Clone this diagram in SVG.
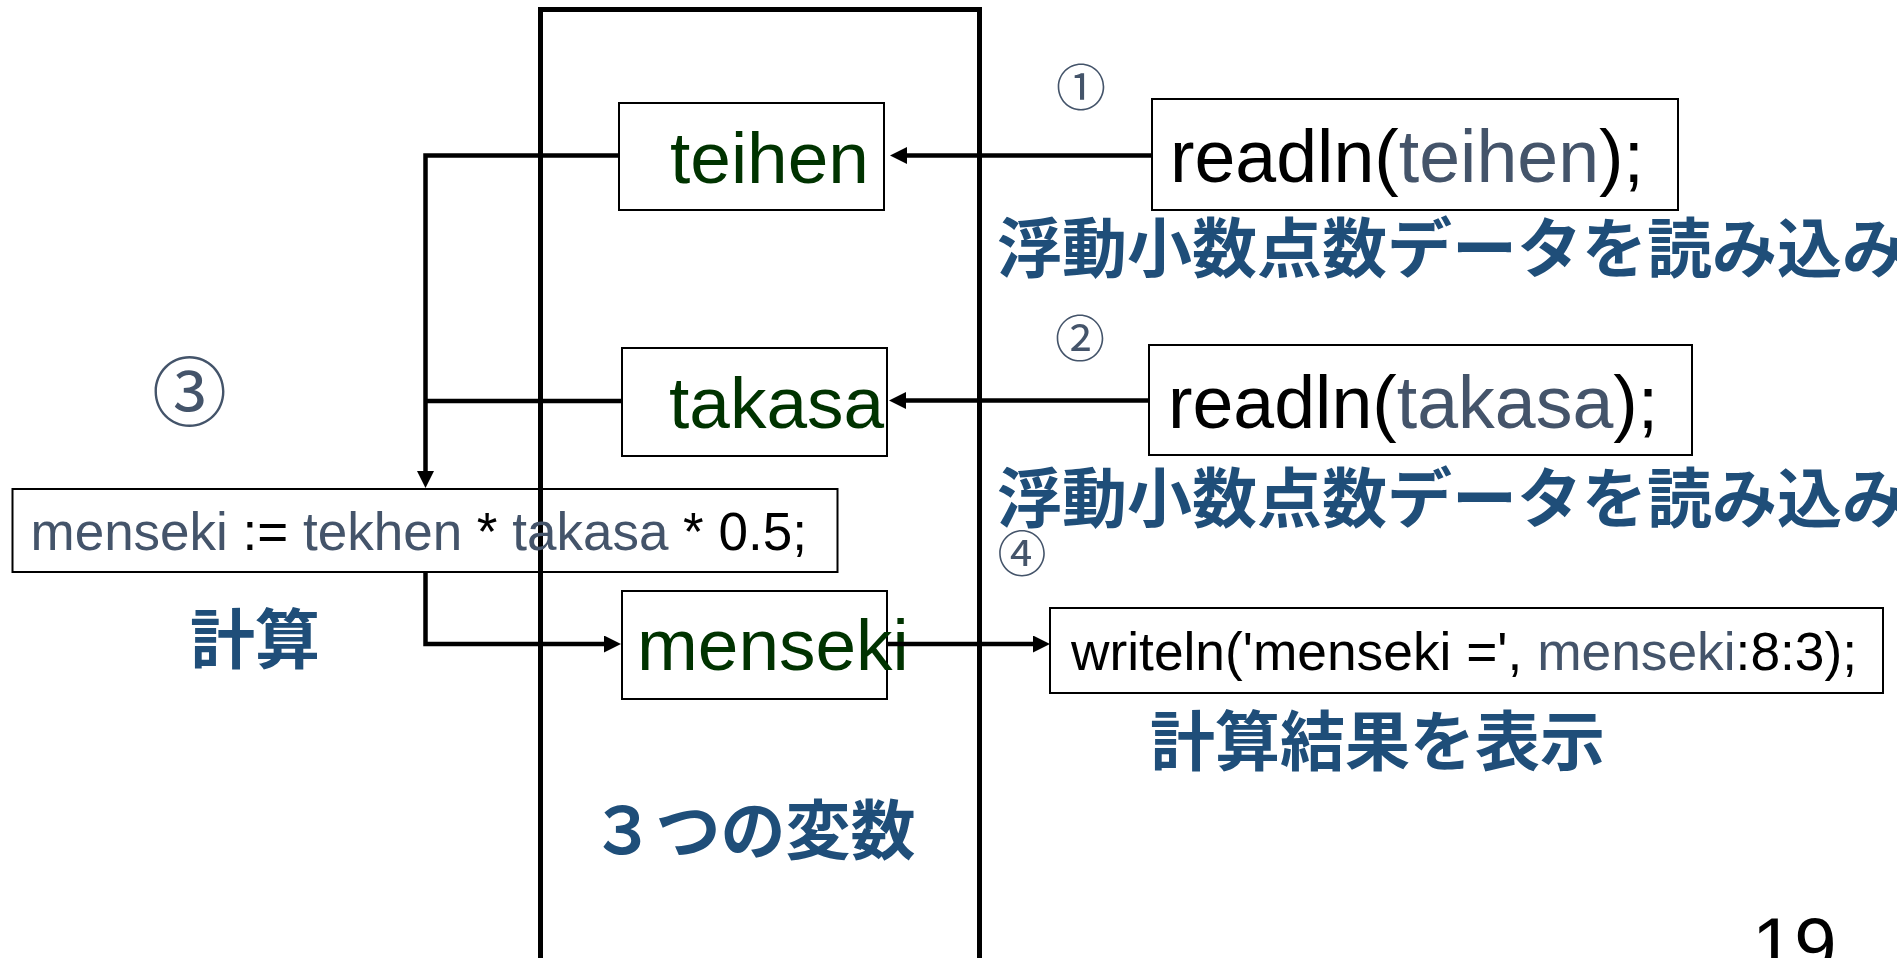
<svg xmlns="http://www.w3.org/2000/svg" width="1897" height="958" viewBox="0 0 1897 958">
<defs>
<style>
.box{fill:none;stroke:#000;stroke-width:2}
.con{fill:none;stroke:#000;stroke-width:4.5}
.lat{font-family:"Liberation Sans",Arial,sans-serif}
.var{font-family:"Liberation Sans",Arial,sans-serif;font-size:73px;fill:#003300}
.gb{fill:#44546A}
.blk{fill:#000}
.jp{font-family:"Noto Sans CJK JP","Noto Sans CJK SC",sans-serif;font-weight:bold;font-size:65px;fill:#1F4E79}
.circ{font-family:"Noto Sans CJK JP","Noto Sans CJK SC",sans-serif;fill:#44546A;text-anchor:middle}
</style>
<marker id="arr" markerUnits="userSpaceOnUse" markerWidth="17" markerHeight="17" refX="9" refY="8.5" orient="auto">
<path d="M0,0 L17,8.5 L0,17 z" fill="#000"/>
</marker>
</defs>
<rect width="1897" height="958" fill="#fff"/>

<g id="vars-frame">
<path d="M540.5,970 V9.5 H979.5 V970" fill="none" stroke="#000" stroke-width="5"/>
<text class="jp" x="753" y="854" text-anchor="middle">３つの変数</text>
</g>

<g id="teihen">
<rect class="box" x="619" y="103" width="265" height="107"/>
<text class="var" x="670" y="183">teihen</text>
</g>
<g id="takasa">
<rect class="box" x="622" y="348" width="265" height="108"/>
<text class="var" x="669" y="428" font-size="74">takasa</text>
</g>
<g id="menseki">
<rect class="box" x="622" y="591" width="265" height="108"/>
<text class="var" x="637" y="670">menseki</text>
</g>

<g id="readln-teihen">
<text class="circ" x="1081" y="106" font-size="50">①</text>
<rect class="box" x="1152" y="99" width="526" height="111"/>
<text class="lat" x="1170" y="182" font-size="73.5"><tspan class="blk">readln(</tspan><tspan class="gb">teihen</tspan><tspan class="blk">);</tspan></text>
<text class="jp" x="997" y="272">浮動小数点数データを読み込み</text>
</g>

<g id="readln-takasa">
<text class="circ" x="1080" y="357" font-size="50">②</text>
<rect class="box" x="1149" y="345" width="543" height="110"/>
<text class="lat" x="1168" y="428" font-size="73.5"><tspan class="blk">readln(</tspan><tspan class="gb">takasa</tspan><tspan class="blk">);</tspan></text>
<text class="jp" x="997" y="522">浮動小数点数データを読み込み</text>
</g>

<g id="calc">
<text class="circ" x="189.5" y="420" font-size="75">③</text>
<rect class="box" x="12.5" y="489" width="825" height="83"/>
<text class="lat" x="30.5" y="550" font-size="53"><tspan class="gb">menseki</tspan><tspan class="blk"> := </tspan><tspan class="gb">tekhen</tspan><tspan class="blk"> * </tspan><tspan class="gb">takasa</tspan><tspan class="blk"> * 0.5;</tspan></text>
<text class="jp" x="190" y="663">計算</text>
</g>

<g id="writeln">
<text class="circ" x="1022" y="572" font-size="49">④</text>
<rect class="box" x="1050" y="608" width="833" height="85"/>
<text class="lat" x="1071" y="670" font-size="53.3"><tspan class="blk">writeln('menseki =', </tspan><tspan class="gb">menseki</tspan><tspan class="blk">:8:3);</tspan></text>
<text class="jp" x="1150" y="765">計算結果を表示</text>
</g>

<g id="page">
<text class="lat" x="1752" y="971" font-size="76" fill="#000">19</text>
</g>

<g id="connectors">
<path class="con" d="M1152,155.5 H898" marker-end="url(#arr)"/>
<path class="con" d="M1149,400.5 H897" marker-end="url(#arr)"/>
<path class="con" d="M619,155.5 H425.5 V480" marker-end="url(#arr)"/>
<path class="con" d="M622,401 H425.5"/>
<path class="con" d="M425.5,572 V644 H613" marker-end="url(#arr)"/>
<path class="con" d="M887,644 H1042" marker-end="url(#arr)"/>
</g>
</svg>
